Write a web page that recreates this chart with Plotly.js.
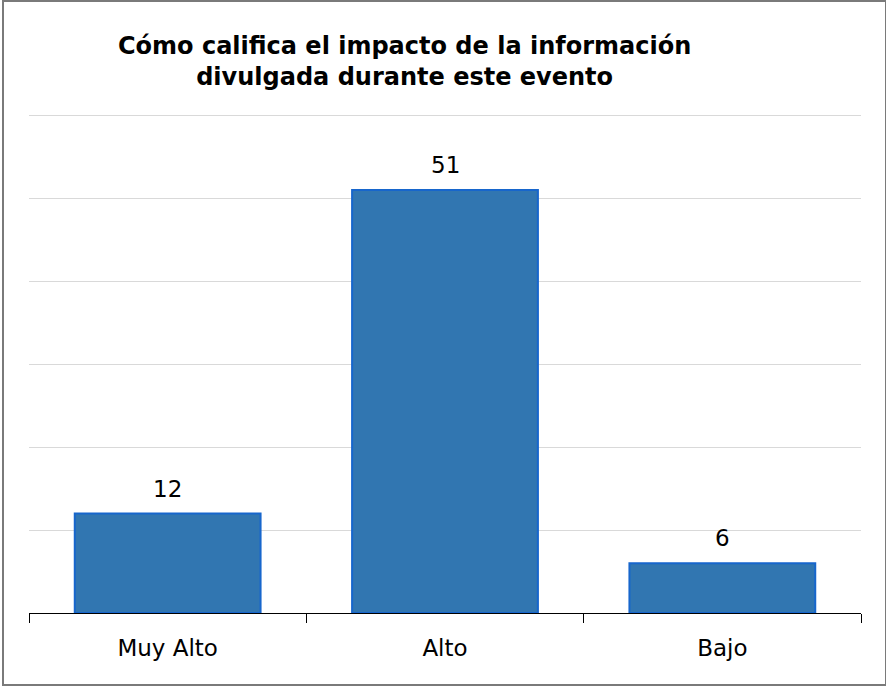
<!DOCTYPE html>
<html>
<head>
<meta charset="utf-8">
<script src="https://cdn.plot.ly/plotly-3.0.1.min.js"></script>
<style>
html,body{margin:0;padding:0;background:#fff;}
#chart{width:886px;height:686px;position:absolute;left:0;top:0;}
#frame{position:absolute;left:2px;top:0px;width:881px;height:682px;border:2px solid #7a7a7a;pointer-events:none;}
</style>
</head>
<body>
<div id="chart"></div>
<div id="frame"></div>
<script>
var categories = ["Muy Alto", "Alto", "Bajo"];
var values = [12, 51, 6];
var gridValues = [10, 20, 30, 40, 50, 60];
var titleText = "Cómo califica el impacto de la información<br>divulgada durante este evento";

var trace = {
  type: "bar",
  x: categories,
  y: values,
  marker: {color: "#3176b1", line: {color: "#1766cc", width: 2}},
  width: 0.67,
  hoverinfo: "none"
};

var annotations = categories.map(function (c, i) {
  return {
    x: c, y: values[i], xref: "x", yref: "y",
    text: String(values[i]), showarrow: false,
    yanchor: "bottom", yshift: 10,
    font: {family: "DejaVu Sans", size: 23, color: "#000"}
  };
});

var layout = {
  width: 886,
  height: 686,
  margin: {l: 29, r: 25, t: 113, b: 73},
  paper_bgcolor: "#fff",
  plot_bgcolor: "#fff",
  showlegend: false,
  annotations: annotations,
  title: {
    text: titleText,
    font: {family: "DejaVu Sans", size: 24, color: "#000", weight: "bold"},
    x: 400/886, xref: "paper", xanchor: "center",
    y: 0.922, yref: "container", yanchor: "top"
  },
  xaxis: {
    type: "category",
    showline: true, linecolor: "#000", linewidth: 1,
    ticks: "outside", tickson: "boundaries", ticklen: 9, tickcolor: "#000",
    ticklabelstandoff: 14,
    tickfont: {family: "DejaVu Sans", size: 23, color: "#000"},
    showgrid: false, zeroline: false
  },
  yaxis: {
    range: [0, 60.3], tickvals: gridValues,
    showticklabels: false, showline: false, ticks: "",
    showgrid: true, gridcolor: "#d9d9d9", gridwidth: 1,
    zeroline: false
  }
};

Plotly.newPlot("chart", [trace], layout, {displayModeBar: false, staticPlot: true});
</script>
</body>
</html>
